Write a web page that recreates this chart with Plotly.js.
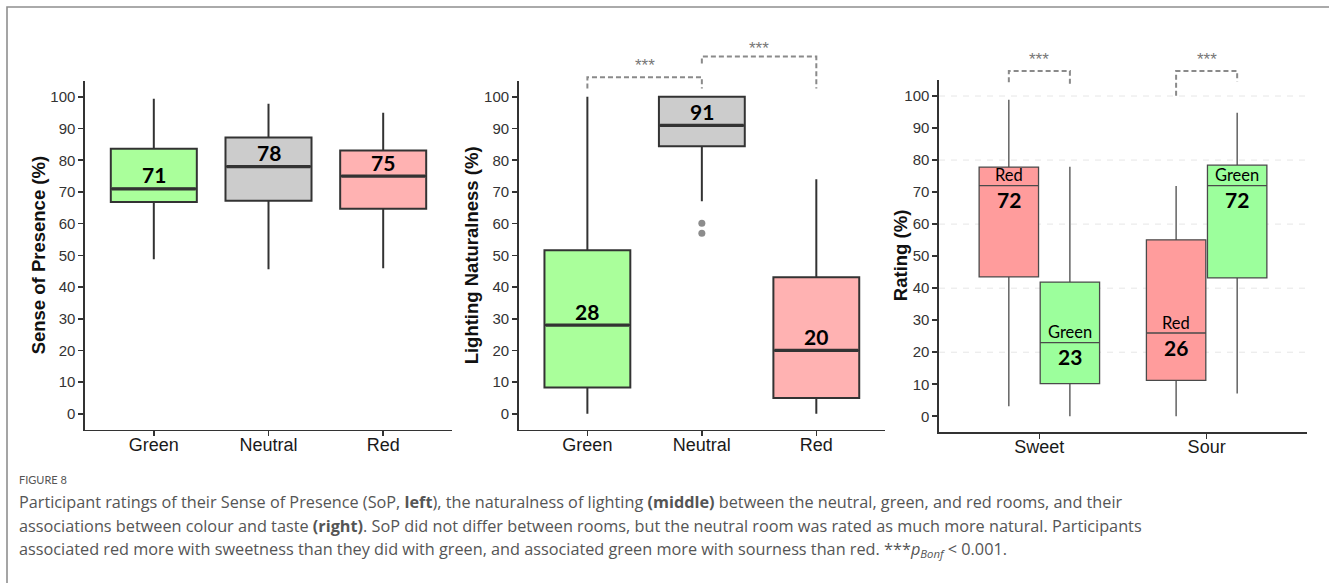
<!DOCTYPE html>
<html>
<head>
<meta charset="utf-8">
<script src="https://cdn.plot.ly/plotly-3.0.1.min.js"></script>
<style>
  html, body { margin: 0; padding: 0; background: #fff; }
  #chart { width: 1329px; height: 583px; }
</style>
</head>
<body>
<div id="chart"></div>
<script>
// ---- Data -------------------------------------------------------------
// Room conditions used by the presence and naturalness panels
const rooms = ['Green', 'Neutral', 'Red'];

// Sense of Presence (%) box statistics per room
const presenceLow    = [48.8, 45.6, 45.9];
const presenceQ1     = [66.8, 67.2, 64.7];
const presenceMedian = [71, 78, 75];
const presenceQ3     = [83.6, 87.2, 83.1];
const presenceHigh   = [99.4, 97.8, 95.0];

// Lighting Naturalness (%) box statistics per room
const naturalLow    = [0, 67.1, 0];
const naturalQ1     = [8.3, 84.4, 5.0];
const naturalMedian = [28, 91, 20];
const naturalQ3     = [51.6, 100, 43.1];
const naturalHigh   = [100, 100, 74.0];

// Outlying naturalness ratings (room index, value)
const naturalOutlierRoom  = [1, 1];
const naturalOutlierValue = [60.1, 57.0];

// Colour-taste association ratings (%)
const tastes = ['Sweet', 'Sour'];
const redLow      = [3.1, 0];
const redQ1       = [43.5, 11.2];
const redMedian   = [72, 26];
const redQ3       = [77.8, 55.1];
const redHigh     = [98.8, 71.9];
const greenLow    = [0, 7.1];
const greenQ1     = [10.2, 43.2];
const greenMedian = [23, 72];
const greenQ3     = [41.9, 78.4];
const greenHigh   = [77.9, 94.8];

// ---- Styling ----------------------------------------------------------
const W = 1329, H = 583;
const roomFill   = ['#aaff9b', '#cccccc', '#ffb2b2'];
const tasteRed   = '#ff9c9c';
const tasteGreen = '#9cff9c';
const ink = '#333333';
const axisFont  = 'Liberation Sans, Arial, sans-serif';
const labelFont = 'Lato, Noto Sans, sans-serif';
const boxWidth = 0.75;
const tasteBoxGap = 0.27;
const tasteOffset = (1 - tasteBoxGap) / 4;   // centre shift of each colour within a taste

const px = x => x / W;
const py = y => 1 - y / H;

function xAxis(domain, range, ticktext, standoff) {
  return {
    domain: domain, range: range,
    tickvals: ticktext.map((_, i) => i), ticktext: ticktext,
    showline: true, linecolor: ink, linewidth: 1.6,
    ticks: 'outside', ticklen: 5, tickwidth: 1.6, tickcolor: ink,
    ticklabelstandoff: standoff,
    tickfont: { family: axisFont, size: 18, color: '#1a1a1a' },
    showgrid: false, zeroline: false, automargin: false, fixedrange: true
  };
}
function yAxis(domain) {
  return {
    domain: domain, range: [-5, 105], tick0: 0, dtick: 10,
    showline: true, linecolor: ink, linewidth: 1.6,
    ticks: 'outside', ticklen: 5, tickwidth: 1.6, tickcolor: ink,
    tickfont: { family: axisFont, size: 15, color: ink },
    showgrid: false, zeroline: false, automargin: false, fixedrange: true
  };
}

const layout = {
  width: W, height: H,
  margin: { l: 0, r: 0, t: 0, b: 0 },
  paper_bgcolor: '#fff', plot_bgcolor: 'rgba(0,0,0,0)',
  showlegend: false,
  boxmode: 'group', boxgap: tasteBoxGap, boxgroupgap: 0.027,
  xaxis:  Object.assign(xAxis([px(85), px(452)], [-0.6, 2.6], rooms, -7), { anchor: 'y' }),
  yaxis:  Object.assign(yAxis([py(429.7), py(81)]), { anchor: 'x' }),
  xaxis2: Object.assign(xAxis([px(518.7), px(885)], [-0.6, 2.6], rooms, -7), { anchor: 'y2' }),
  yaxis2: Object.assign(yAxis([py(429.7), py(81)]), { anchor: 'x2' }),
  xaxis3: Object.assign(xAxis([px(939), px(1307)], [-0.6, 1.6], tastes, -8), { anchor: 'y3' }),
  yaxis3: Object.assign(yAxis([py(432.3), py(80)]), { anchor: 'x3' }),
  shapes: [],
  annotations: []
};

// ---- Axis titles --------------------------------------------------------
[
  { ax: 'yaxis',  x: 38,  text: 'Sense of Presence (%)' },
  { ax: 'yaxis2', x: 471, text: 'Lighting Naturalness (%)' },
  { ax: 'yaxis3', x: 900, text: 'Rating (%)' }
].forEach(t => {
  const d = layout[t.ax].domain;
  layout.annotations.push({
    xref: 'paper', yref: 'paper', x: px(t.x), y: (d[0] + d[1]) / 2,
    xanchor: 'center', yanchor: 'middle', textangle: -90,
    text: '<b>' + t.text + '</b>', showarrow: false,
    font: { family: axisFont, size: 18.5, color: '#111' }
  });
});

// ---- Traces -----------------------------------------------------------
const traces = [];

function roomBoxes(xa, ya, low, q1, med, q3, high) {
  rooms.forEach((room, i) => {
    traces.push({
      type: 'box', xaxis: xa, yaxis: ya, name: room,
      x: [i], q1: [q1[i]], median: [med[i]], q3: [q3[i]],
      lowerfence: [low[i]], upperfence: [high[i]],
      width: boxWidth, whiskerwidth: 0, boxpoints: false,
      fillcolor: roomFill[i], line: { color: ink, width: 2 },
      hoverinfo: 'skip'
    });
  });
  // heavier median bars across each box
  const mx = [], my = [];
  med.forEach((m, i) => {
    mx.push(i - boxWidth / 2 + 0.01, i + boxWidth / 2 - 0.01, null);
    my.push(m, m, null);
  });
  traces.push({
    type: 'scatter', mode: 'lines', xaxis: xa, yaxis: ya,
    x: mx, y: my, line: { color: ink, width: 3.2 }, hoverinfo: 'skip'
  });
}

roomBoxes('x', 'y', presenceLow, presenceQ1, presenceMedian, presenceQ3, presenceHigh);
roomBoxes('x2', 'y2', naturalLow, naturalQ1, naturalMedian, naturalQ3, naturalHigh);

traces.push({
  type: 'scatter', mode: 'markers', xaxis: 'x2', yaxis: 'y2',
  x: naturalOutlierRoom, y: naturalOutlierValue,
  marker: { color: '#8c8c8c', size: 7 }, hoverinfo: 'skip'
});

function tasteBoxes(name, colour, low, q1, med, q3, high) {
  traces.push({
    type: 'box', xaxis: 'x3', yaxis: 'y3', name: name,
    alignmentgroup: 'taste', offsetgroup: name,
    x: tastes.map((_, i) => i), q1: q1, median: med, q3: q3,
    lowerfence: low, upperfence: high,
    whiskerwidth: 0, boxpoints: false,
    fillcolor: colour, line: { color: '#4a4a4a', width: 1.3 },
    hoverinfo: 'skip'
  });
}
tasteBoxes('Red', tasteRed, redLow, redQ1, redMedian, redQ3, redHigh);
tasteBoxes('Green', tasteGreen, greenLow, greenQ1, greenMedian, greenQ3, greenHigh);

// ---- Value labels -----------------------------------------------------
function valueLabel(xa, ya, x, y, text, shift, bold) {
  layout.annotations.push({
    xref: xa, yref: ya, x: x, y: y, yshift: shift,
    text: bold ? '<b>' + text + '</b>' : text,
    showarrow: false, xanchor: 'center', yanchor: 'middle',
    font: { family: labelFont, size: bold ? 21 : 16.5, color: '#000' }
  });
}
rooms.forEach((_, i) => {
  valueLabel('x', 'y', i, presenceMedian[i], String(presenceMedian[i]), 14, true);
  valueLabel('x2', 'y2', i, naturalMedian[i], String(naturalMedian[i]), 13.5, true);
});
tastes.forEach((_, i) => {
  valueLabel('x3', 'y3', i - tasteOffset, redMedian[i], 'Red', 10.5, false);
  valueLabel('x3', 'y3', i - tasteOffset, redMedian[i], String(redMedian[i]), -14, true);
  valueLabel('x3', 'y3', i + tasteOffset, greenMedian[i], 'Green', 10.5, false);
  valueLabel('x3', 'y3', i + tasteOffset, greenMedian[i], String(greenMedian[i]), -14, true);
});

// ---- Reference grid on the taste panel ---------------------------------
[20, 40, 60, 80, 100].forEach(v => {
  layout.shapes.push({
    type: 'line', xref: 'x3 domain', yref: 'y3', x0: 0, x1: 1, y0: v, y1: v,
    line: { color: '#e6e6e6', width: 1, dash: '6px,6px' }, layer: 'below'
  });
});

// ---- Significance brackets --------------------------------------------
const brackets = [
  { ax: '2', from: 0, to: 1, top: 106.2, legFrom: 102.6, legTo: 102.6, star: 109.8 },
  { ax: '2', from: 1, to: 2, top: 112.7, legFrom: 110.5, legTo: 102.6, star: 115.2 },
  { ax: '3', from: -tasteOffset, to: tasteOffset, top: 107.8, legFrom: 104.3, legTo: 103.2, star: 111.4 },
  { ax: '3', from: 1 - tasteOffset, to: 1 + tasteOffset, top: 107.8, legFrom: 100.1, legTo: 104.5, star: 111.4 }
];
brackets.forEach(b => {
  const xa = layout['xaxis' + b.ax], ya = layout['yaxis' + b.ax];
  const fx = v => (v - xa.range[0]) / (xa.range[1] - xa.range[0]);
  const fy = v => (v - ya.range[0]) / (ya.range[1] - ya.range[0]);
  layout.shapes.push({
    type: 'path', xref: 'x' + b.ax + ' domain', yref: 'y' + b.ax + ' domain',
    path: 'M' + fx(b.from) + ',' + fy(b.legFrom) + ' L' + fx(b.from) + ',' + fy(b.top) +
          ' L' + fx(b.to) + ',' + fy(b.top) + ' L' + fx(b.to) + ',' + fy(b.legTo),
    line: { color: '#8a8a8a', width: 2, dash: '5px,3px' }
  });
  const paperY = ya.domain[0] + fy(b.star) * (ya.domain[1] - ya.domain[0]);
  layout.annotations.push({
    xref: 'x' + b.ax, yref: 'paper', x: (b.from + b.to) / 2, y: paperY,
    text: '***', showarrow: false, xanchor: 'center', yanchor: 'middle',
    font: { family: axisFont, size: 17, color: '#777' }
  });
});

// ---- Figure frame -------------------------------------------------------
layout.shapes.push({
  type: 'path', xref: 'paper', yref: 'paper',
  path: 'M' + px(7) + ',' + py(583) + ' L' + px(7) + ',' + py(7) + ' L' + px(1329) + ',' + py(7),
  line: { color: '#8f8f8f', width: 1.6 }
});

// ---- Caption ------------------------------------------------------------
const captionFont = { family: 'Open Sans, Lato, sans-serif', size: 16.25, color: '#555' };
const captionLines = [
  'Participant ratings of their Sense of Presence (SoP, <b>left</b>), the naturalness of lighting <b>(middle)</b> between the neutral, green, and red rooms, and their',
  'associations between colour and taste <b>(right)</b>. SoP did not differ between rooms, but the neutral room was rated as much more natural. Participants',
  'associated red more with sweetness than they did with green, and associated green more with sourness than red. ***<i>p</i><sub><i>Bonf</i></sub> &lt; 0.001.'
];
layout.annotations.push({
  xref: 'paper', yref: 'paper', x: px(17), y: py(479.5), xanchor: 'left', yanchor: 'middle',
  text: 'FIGURE 8', showarrow: false,
  font: { family: 'Lato, Open Sans, sans-serif', size: 11, color: '#555' }
});
captionLines.forEach((line, k) => {
  layout.annotations.push({
    xref: 'paper', yref: 'paper', x: px(17), y: py(502.3 + k * 23.5),
    xanchor: 'left', yanchor: 'middle', align: 'left',
    text: line, showarrow: false, font: captionFont
  });
});

Plotly.newPlot('chart', traces, layout, { displayModeBar: false, staticPlot: true });
</script>
</body>
</html>
